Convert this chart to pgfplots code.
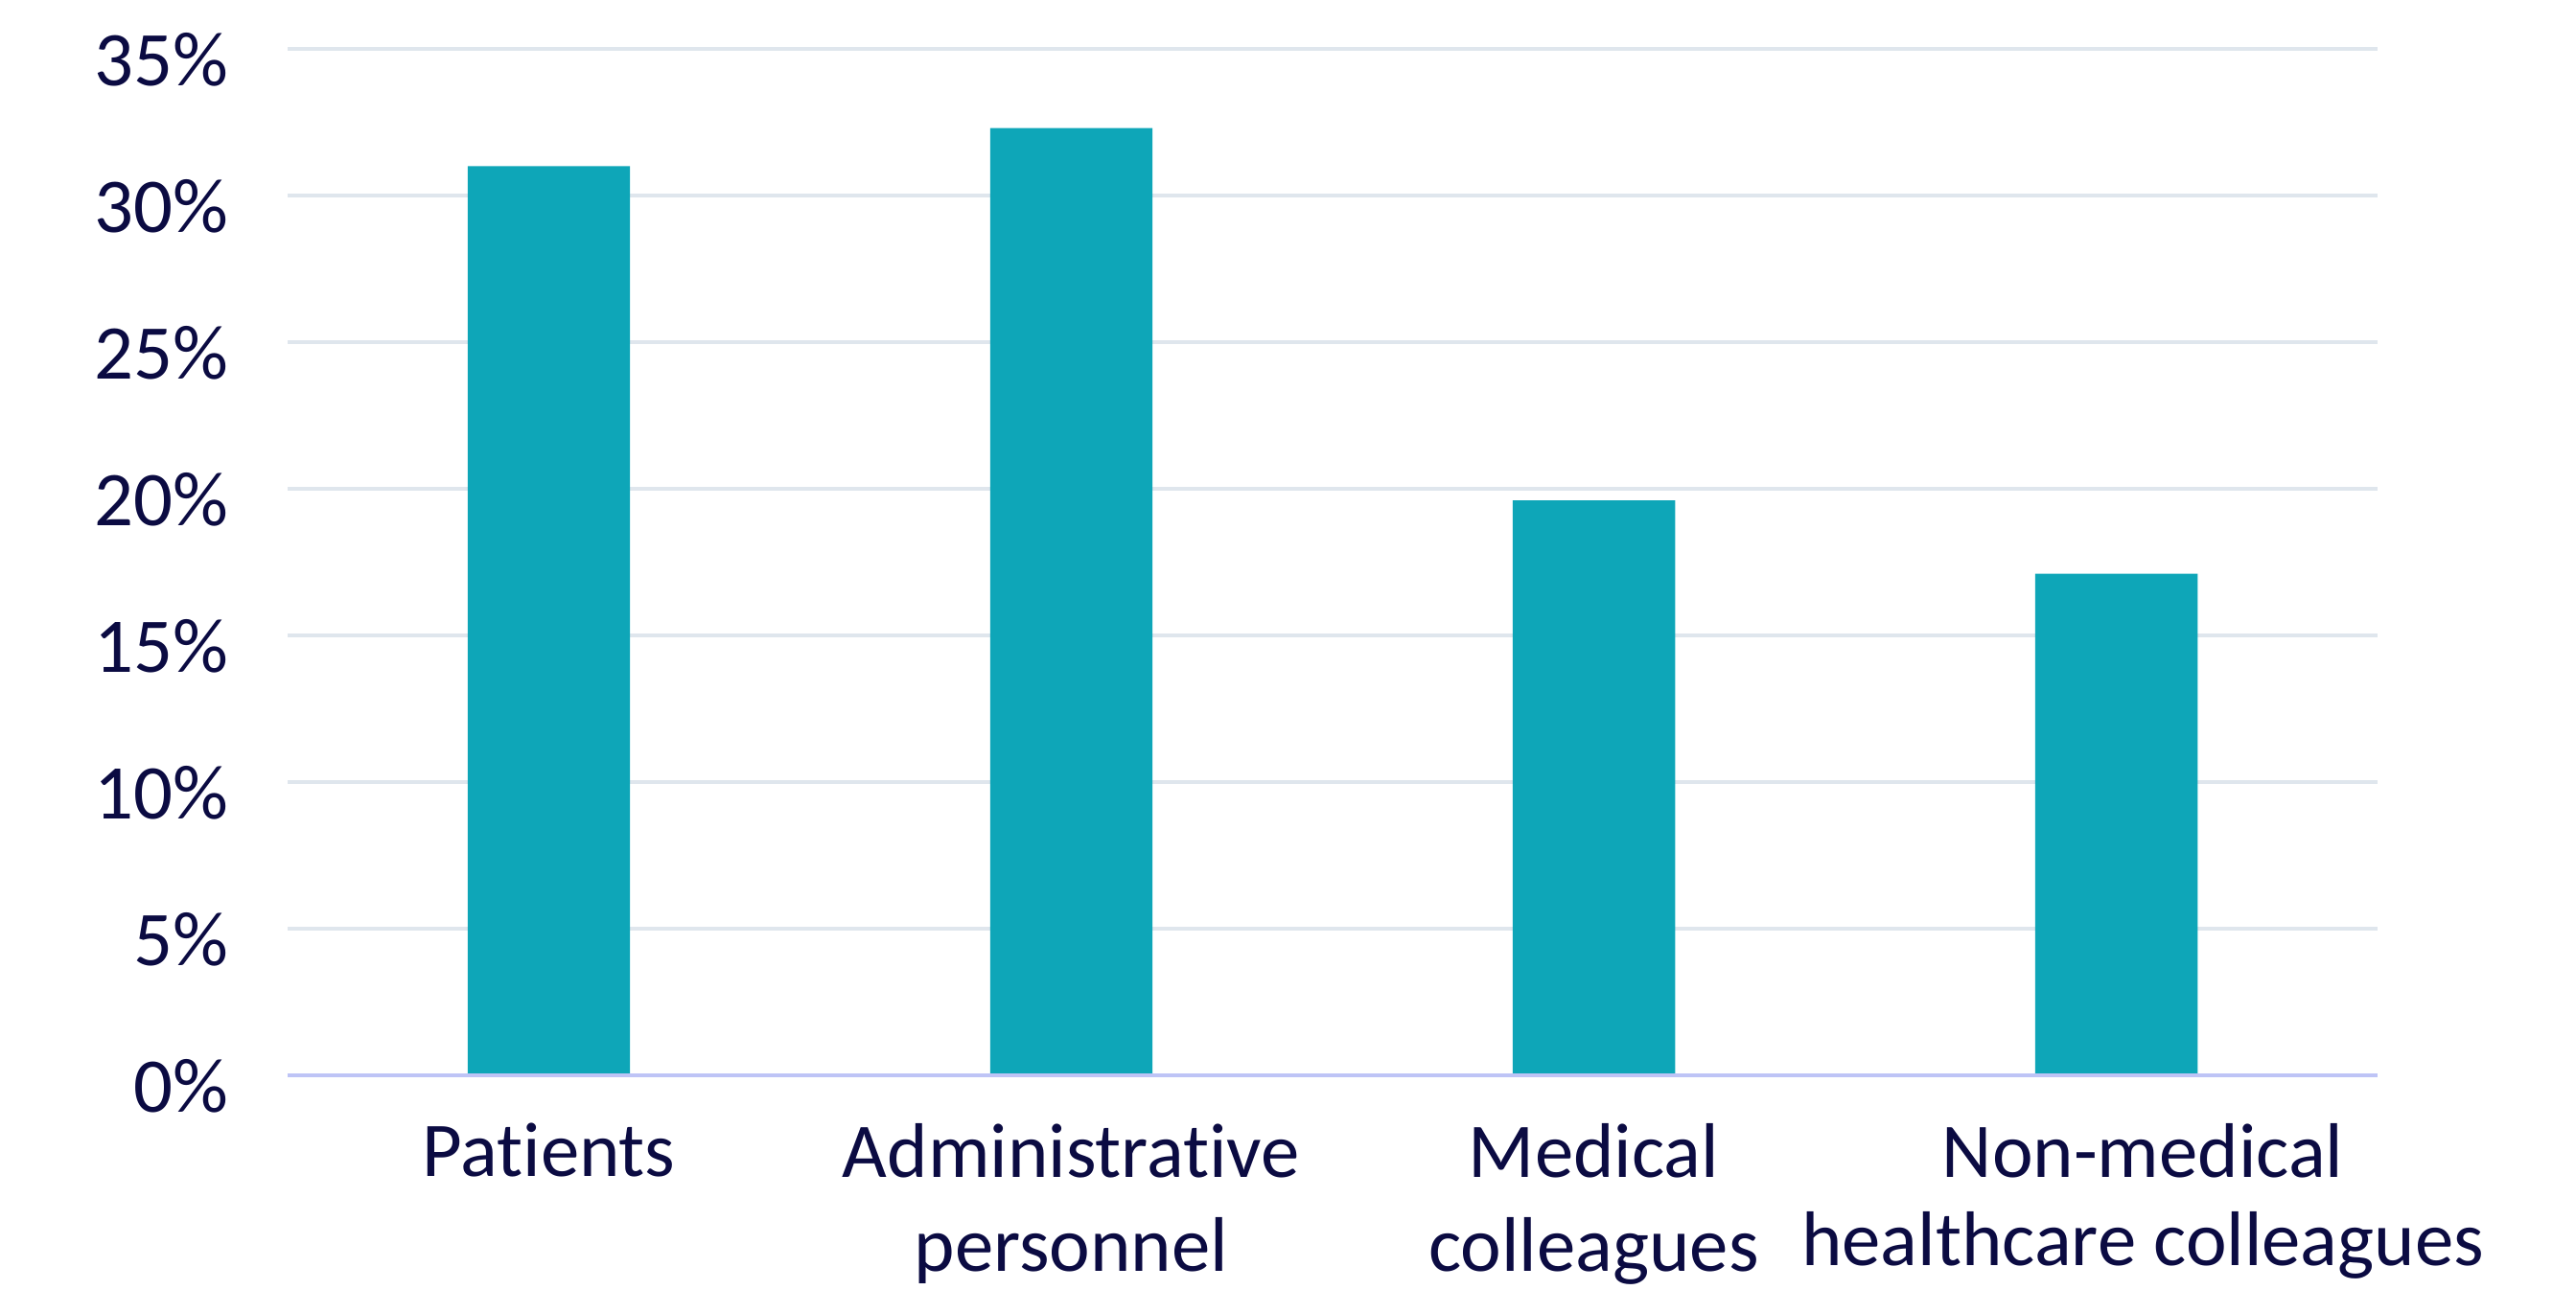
\documentclass[border=0pt]{standalone}
\usepackage{pgfplots}
\pgfplotsset{compat=1.18}
\usepackage{fontspec}
\setmainfont{Carlito}[Ligatures=NoCommon]
\definecolor{barteal}{HTML}{0EA6B8}
\definecolor{navy}{HTML}{0B0B42}
\definecolor{gridgray}{HTML}{DFE6ED}
\definecolor{axislav}{HTML}{BEC4F6}
\begin{document}
\begin{tikzpicture}
\path[use as bounding box] (-75pt,-56pt) rectangle (596.75pt,280.5pt);
\begin{axis}[
    at={(0,0)}, anchor=south west,
    scale only axis,
    width=545pt, height=267.75pt,
    xmin=-0.5, xmax=3.5,
    ymin=0, ymax=35,
    axis line style={draw=none},
    ytick={0,5,10,15,20,25,30,35},
    yticklabels={0\%,5\%,10\%,15\%,20\%,25\%,30\%,35\%},
    xtick={0,1,2,3},
    xticklabels={Patients,Administrative\\personnel,Medical\\colleagues,\hspace*{13.8pt}Non-medical\\[-1.5pt]\hspace*{13.8pt}healthcare colleagues},
    major tick length=0pt,
    ymajorgrids,
    grid style={gridgray, line width=0.8pt},
    tick label style={font=\fontsize{20.2}{24.6}\selectfont, text=navy},
    yticklabel style={xshift=-12pt, yshift=-2.7pt},
    xticklabel style={align=center, anchor=north, yshift=-9pt},
    clip=false,
]
\addplot[ybar, bar width=0.311, fill=barteal, draw=none] coordinates {
    (0, 31.0)
    (1, 32.3)
    (2, 19.6)
    (3, 17.1)
};
\draw[axislav, line width=0.8pt] (axis cs:-0.5,0) -- (axis cs:3.5,0);
\end{axis}
\end{tikzpicture}
\end{document}
